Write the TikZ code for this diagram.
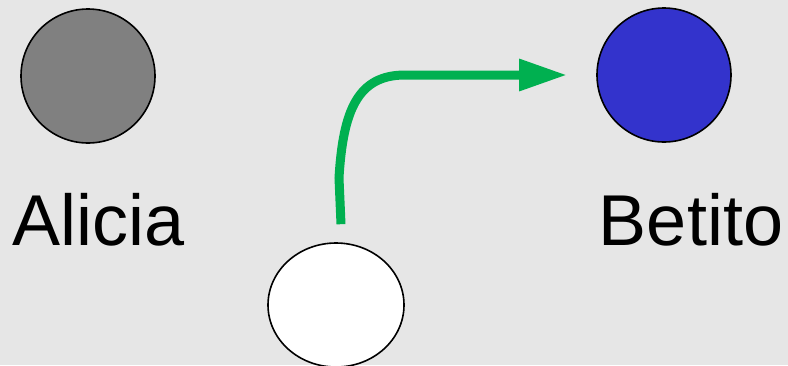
\documentclass[tikz,border=0pt]{standalone}
\usepackage{fontspec}
\setmainfont{Liberation Sans}
\usetikzlibrary{arrows.meta,shapes.geometric}
\definecolor{bgc}{HTML}{E6E6E6}
\definecolor{grn}{HTML}{00B050}
\definecolor{gry}{HTML}{808080}
\definecolor{blu}{HTML}{3333CC}
\tikzset{
  person/.style={circle,draw=black,line width=1.6pt,minimum size=134pt,inner sep=0pt},
  lbl/.style={font=\fontsize{72}{80}\selectfont,anchor=base,inner sep=0pt},
  flow/.style={draw=grn,line width=9pt,-{Triangle[length=48pt,width=30pt]}}
}
\begin{document}
\begin{tikzpicture}[x=1pt,y=-1pt]
\fill[bgc] (0,0) rectangle (788,365);
\useasboundingbox (0,0) rectangle (788,365);
\node[person,fill=gry] (a) at (88,76) {};
\node[person,fill=blu] (b) at (664,75) {};
\node[ellipse,draw=black,line width=1.6pt,fill=white,minimum width=136pt,minimum height=124pt,inner sep=0pt] (w) at (336,305) {};
\node[lbl] (la) at (99,245) {Alicia};
\node[lbl] (lb) at (691,245) {Betito};
\coordinate (s) at ([xshift=5pt,yshift=18pt]w.north);
\coordinate (e) at ([xshift=-29pt]b.west);
\draw[flow] (s) -- (339,178) .. controls (343,110) and (358,75) .. (405,75) -- (e);
\end{tikzpicture}
\end{document}
